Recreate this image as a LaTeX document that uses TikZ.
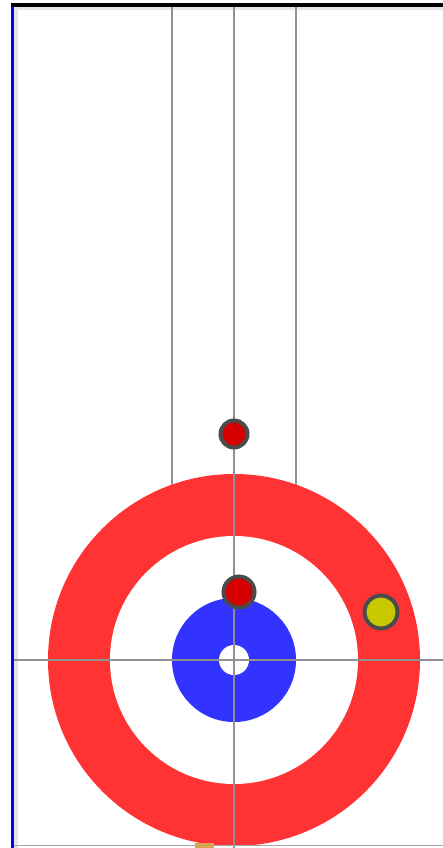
\documentclass[tikz,border=0pt]{standalone}
\definecolor{houseRed}{RGB}{255,51,51}
\definecolor{houseBlue}{RGB}{51,51,255}
\definecolor{stoneRed}{RGB}{215,0,0}
\definecolor{stoneYellow}{RGB}{200,200,0}
\definecolor{stoneRim}{RGB}{75,75,75}
\definecolor{sheetLine}{RGB}{145,145,145}
\definecolor{stoneTan}{RGB}{215,165,80}
\tikzset{
  sheetline/.style={sheetLine,line width=1.8pt},
  stone/.style={draw=stoneRim,line width=4pt}
}
\begin{document}
\begin{tikzpicture}[x=1pt,y=-1pt]
 \useasboundingbox (0,0) rectangle (443,848);
 \fill[white] (0,0) rectangle (443,848);
 \fill[black!10] (14,7) rectangle (18,848); \fill[black!10] (14,7) rectangle (443,10);
 \coordinate (tee) at (234,660);
 \draw[sheetline] (172,7)--(172,490); \draw[sheetline] (296,7)--(296,490);
 % house
 \fill[houseRed] (tee) circle (186);
 \fill[white] (tee) circle (124);
 \fill[houseBlue] (tee) circle (62);
 \fill[white] (tee) circle (15);
 \draw[sheetline] (234,7)--(234,848);
 \draw[sheetline] (14,660)--(443,660);
 \draw[black!35,line width=1pt] (14,845.5)--(443,845.5);
 \fill[stoneTan] (195,843) rectangle (214,848);
 % stones
 \coordinate (red1) at (234,434);
 \coordinate (red2) at (239,592);
 \coordinate (yel1) at (381,612);
 \filldraw[stone,fill=stoneRed] (red1) circle (13.5);
 \filldraw[stone,fill=stoneRed] (red2) circle (15.5);
 \filldraw[stone,fill=stoneYellow] (yel1) circle (16.5);
 \draw[blue,line width=3.5pt] (12.5,3)--(12.5,848);
 \draw[line width=4pt] (11,5)--(443,5);
\end{tikzpicture}
\end{document}
